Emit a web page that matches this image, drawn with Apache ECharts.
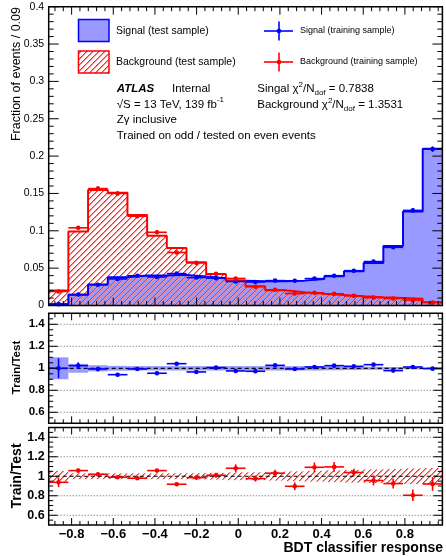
<!DOCTYPE html>
<html>
<head>
<meta charset="utf-8">
<script src="https://cdn.jsdelivr.net/npm/echarts@6/dist/echarts.min.js"></script>
<style>
html,body{margin:0;padding:0;background:#fff;}
#chart{width:446px;height:556px;}
</style>
</head>
<body>
<div id="chart"></div>
<script>
// ---------------- data ----------------
const binEdges = [-0.91, -0.8155, -0.721, -0.6265, -0.532, -0.4375, -0.343, -0.2485, -0.154, -0.0595, 0.035,
                  0.1295, 0.224, 0.3185, 0.413, 0.5075, 0.602, 0.6965, 0.791, 0.8855, 0.98];
const sigTest  = [0.0018, 0.0143, 0.0280, 0.0378, 0.0400, 0.0400, 0.0410, 0.0387, 0.0364, 0.0330,
                  0.0324, 0.0324, 0.0333, 0.0356, 0.0390, 0.0458, 0.0569, 0.0796, 0.1258, 0.2100];
const bkgTest  = [0.0200, 0.0990, 0.1547, 0.1510, 0.1213, 0.0933, 0.0769, 0.0578, 0.0422, 0.0336,
                  0.0258, 0.0204, 0.0178, 0.0156, 0.0142, 0.0124, 0.0110, 0.0102, 0.0089, 0.0044];
const sigTrain = [0.0018, 0.0147, 0.0278, 0.0356, 0.0398, 0.0382, 0.0427, 0.0374, 0.0366, 0.0322,
                  0.0315, 0.0333, 0.0331, 0.0360, 0.0399, 0.0466, 0.0588, 0.0779, 0.1273, 0.2094];
const sigTrainErr = [0.0005, 0.001, 0.0012, 0.0014, 0.0015, 0.0015, 0.0015, 0.0015, 0.0014, 0.0014,
                     0.0014, 0.0014, 0.0014, 0.0015, 0.0016, 0.0017, 0.0019, 0.0023, 0.0028, 0.0036];
const bkgTrain = [0.0188, 0.1040, 0.1565, 0.1500, 0.1195, 0.0980, 0.0710, 0.0570, 0.0424, 0.0362,
                  0.0252, 0.0210, 0.0160, 0.0170, 0.0156, 0.0129, 0.0105, 0.0094, 0.0072, 0.0041];
const bkgTrainErr = [0.0012, 0.0025, 0.003, 0.003, 0.0027, 0.0024, 0.002, 0.0018, 0.0015, 0.0014,
                     0.0012, 0.0011, 0.001, 0.001, 0.001, 0.0009, 0.0008, 0.0008, 0.0007, 0.0005];
const sigRatio    = [1.000, 1.024, 0.994, 0.942, 0.994, 0.955, 1.042, 0.967, 1.006, 0.976,
                     0.973, 1.027, 0.994, 1.012, 1.024, 1.018, 1.033, 0.979, 1.012, 0.997];
const sigRatioErr = [0.09, 0.03, 0.02, 0.015, 0.015, 0.015, 0.015, 0.015, 0.015, 0.015,
                     0.015, 0.015, 0.015, 0.015, 0.012, 0.012, 0.01, 0.01, 0.008, 0.006];
const sigBand     = [0.10, 0.04, 0.028, 0.022, 0.02, 0.02, 0.02, 0.02, 0.02, 0.02,
                     0.02, 0.02, 0.02, 0.02, 0.018, 0.016, 0.014, 0.012, 0.01, 0.008];
const bkgRatio    = [0.938, 1.058, 1.020, 0.990, 0.980, 1.058, 0.918, 0.986, 1.010, 1.082,
                     0.976, 1.031, 0.897, 1.092, 1.096, 1.038, 0.956, 0.925, 0.805, 0.921];
const bkgRatioErr = [0.05, 0.02, 0.015, 0.015, 0.015, 0.015, 0.015, 0.02, 0.025, 0.04,
                     0.03, 0.035, 0.04, 0.05, 0.05, 0.04, 0.05, 0.05, 0.06, 0.07];
const bkgBand     = [0.055, 0.03, 0.03, 0.03, 0.03, 0.03, 0.03, 0.032, 0.035, 0.04,
                     0.04, 0.045, 0.05, 0.055, 0.06, 0.065, 0.07, 0.075, 0.08, 0.085];
const xTickValues = [-0.8, -0.6, -0.4, -0.2, 0, 0.2, 0.4, 0.6, 0.8];
const xTickLabels = ['\u22120.8', '\u22120.6', '\u22120.4', '\u22120.2', '0', '0.2', '0.4', '0.6', '0.8'];
const topTickValues = [0, 0.05, 0.1, 0.15, 0.2, 0.25, 0.3, 0.35, 0.4];
const topTickLabels = ['0', '0.05', '0.1', '0.15', '0.2', '0.25', '0.3', '0.35', '0.4'];
const ratioTickValues = [0.6, 0.8, 1, 1.2, 1.4];
const ratioTickLabels = ['0.6', '0.8', '1', '1.2', '1.4'];

// ---------------- helpers ----------------
const FONT = '"Liberation Sans", Arial, Helvetica, sans-serif';
const SIG_FILL = '#9999ff';
const X_MIN = binEdges[0], X_MAX = binEdges[binEdges.length - 1];
const nB = binEdges.length - 1;
const centers = [], halfW = [];
for (let i = 0; i < nB; i++) { centers.push((binEdges[i] + binEdges[i + 1]) / 2); halfW.push((binEdges[i + 1] - binEdges[i]) / 2); }
const overlap = sigTest.map((v, i) => Math.min(v, bkgTest[i]));

function labelFor(values, labels) {
  return v => { for (let i = 0; i < values.length; i++) if (Math.abs(v - values[i]) < 1e-6) return labels[i]; return ''; };
}
function histLine(vals) {
  const pts = [];
  for (let i = 0; i < vals.length; i++) { pts.push([binEdges[i], vals[i]]); pts.push([binEdges[i + 1], vals[i]]); }
  return pts;
}
// opaque hatch tiles (background colour + red diagonal)
function hatchTile(bg) {
  const c = document.createElement('canvas'); c.width = 6; c.height = 6;
  const g = c.getContext('2d');
  g.fillStyle = bg; g.fillRect(0, 0, 6, 6);
  g.fillStyle = '#ff2a2a';
  for (let i = 0; i < 6; i++) g.fillRect(i, 5 - i, 1, 1);
  g.fillStyle = '#ff8c8c';
  for (let i = 0; i < 6; i++) g.fillRect((i + 1) % 6, 5 - i, 1, 1);
  return { image: c, repeat: 'repeat' };
}
const hatchWhite = hatchTile('#ffffff');
const hatchBlue = hatchTile(SIG_FILL);

// tick lists (axis structure)
const xMinorTicks = []; for (let k = -23; k <= 24; k++) { if (k % 5 !== 0) { const v = k * 0.04; if (v > X_MIN && v < X_MAX) xMinorTicks.push(v); } }
const topMinor = []; for (let k = 1; k < 40; k++) if (k % 5 !== 0) topMinor.push(k * 0.01);
const ratioMinor = []; for (let k = 1; k < 20; k++) { const v = 0.5 + k * 0.05; if (Math.abs(v * 5 - Math.round(v * 5)) > 1e-6) ratioMinor.push(v); }

function frameSeries(gi, yMajor, yMinor, yRef, tk) {
  return {
    type: 'custom', xAxisIndex: gi, yAxisIndex: gi, z: 50, silent: true, clip: false, animation: false,
    data: [[0, yRef]],
    renderItem: (params, api) => {
      const cs = params.coordSys;
      const x0 = cs.x, x1 = cs.x + cs.width, y0 = cs.y, y1 = cs.y + cs.height;
      const ch = [];
      const st = { stroke: '#000', lineWidth: 1 };
      const L = (a, b, c, d) => ch.push({ type: 'line', shape: { x1: a, y1: b, x2: c, y2: d }, style: st });
      xTickValues.forEach(v => { const p = api.coord([v, yRef])[0]; L(p, y1, p, y1 - tk.xMaj); L(p, y0, p, y0 + tk.xMaj); });
      xMinorTicks.forEach(v => { const p = api.coord([v, yRef])[0]; L(p, y1, p, y1 - tk.xMin); L(p, y0, p, y0 + tk.xMin); });
      yMajor.forEach(v => { const p = api.coord([0, v])[1]; L(x0, p, x0 + tk.yMaj, p); L(x1, p, x1 - tk.yMaj, p); });
      yMinor.forEach(v => { const p = api.coord([0, v])[1]; L(x0, p, x0 + tk.yMin, p); L(x1, p, x1 - tk.yMin, p); });
      ch.push({ type: 'rect', shape: { x: x0, y: y0, width: cs.width, height: cs.height }, style: { fill: 'none', stroke: '#000', lineWidth: 1.5 } });
      return { type: 'group', children: ch };
    }
  };
}
function gridLineSeries(gi) {
  return {
    type: 'custom', xAxisIndex: gi, yAxisIndex: gi, z: 4, silent: true, animation: false,
    data: [[0, 1]],
    renderItem: (params, api) => {
      const cs = params.coordSys; const ch = [];
      ratioTickValues.forEach(v => {
        const p = api.coord([0, v])[1];
        const isOne = Math.abs(v - 1) < 1e-6;
        ch.push({ type: 'line', shape: { x1: cs.x, y1: p, x2: cs.x + cs.width, y2: p },
          style: { stroke: '#000', lineWidth: isOne ? 1.2 : 0.8, lineDash: isOne ? [4, 3] : [1, 2], opacity: isOne ? 1 : 0.8 } });
      });
      return { type: 'group', children: ch };
    }
  };
}
function markerSeries(gi, vals, errs, color, z) {
  return {
    type: 'custom', xAxisIndex: gi, yAxisIndex: gi, z: z, silent: true, animation: false,
    data: vals.map((v, i) => [centers[i], v, errs[i], halfW[i]]),
    renderItem: (params, api) => {
      const x = api.value(0), y = api.value(1), e = api.value(2), h = api.value(3);
      const c = api.coord([x, y]), l = api.coord([x - h, y]), r = api.coord([x + h, y]);
      const t = api.coord([x, y + e]), b = api.coord([x, y - e]);
      return { type: 'group', children: [
        { type: 'line', shape: { x1: l[0], y1: l[1], x2: r[0], y2: r[1] }, style: { stroke: color, lineWidth: 1.6 } },
        { type: 'line', shape: { x1: c[0], y1: t[1], x2: c[0], y2: b[1] }, style: { stroke: color, lineWidth: 1.6 } },
        { type: 'circle', shape: { cx: c[0], cy: c[1], r: 2.3 }, style: { fill: color } }
      ] };
    }
  };
}
function bandSeries(gi, band, fill, z) {
  return {
    type: 'custom', xAxisIndex: gi, yAxisIndex: gi, z: z, silent: true, animation: false,
    data: band.map((e, i) => [binEdges[i], binEdges[i + 1], e]),
    renderItem: (params, api) => {
      const a = api.coord([api.value(0), 1 + api.value(2)]);
      const b = api.coord([api.value(1), 1 - api.value(2)]);
      return { type: 'rect', shape: { x: a[0], y: a[1], width: b[0] - a[0], height: b[1] - a[1] }, style: { fill: fill } };
    }
  };
}
function areaSeries(vals, fill, z) {
  return { type: 'line', xAxisIndex: 0, yAxisIndex: 0, z: z, silent: true, symbol: 'none', data: histLine(vals),
    lineStyle: { width: 0, opacity: 0 }, areaStyle: { color: fill, opacity: 1 } };
}
function outlineSeries(vals, color, z) {
  return { type: 'line', xAxisIndex: 0, yAxisIndex: 0, z: z, silent: true, symbol: 'none', data: histLine(vals),
    lineStyle: { color: color, width: 2 } };
}

// ---------------- text helpers ----------------
const mctx = document.createElement('canvas').getContext('2d');
function tw(text, font) { mctx.font = font; return mctx.measureText(text).width; }
function T(x, y, text, size, opt) {
  opt = opt || {};
  const weight = opt.weight || 'normal', style = opt.style || 'normal';
  const align = opt.align || 'left';
  return { type: 'text', x: x, y: y, rotation: opt.rotation || 0, silent: true, z: 100,
    style: { text: text, fontSize: size, fontFamily: FONT, fontWeight: weight, fontStyle: style,
      fill: '#000', align: align, textAlign: align, verticalAlign: 'middle', textVerticalAlign: 'middle' } };
}
function fontStr(size, weight, style) { return (style || 'normal') + ' ' + (weight || 'normal') + ' ' + size + 'px ' + FONT; }
function seq(x, y, pieces) {
  const out = []; let cx = x;
  pieces.forEach(p => { out.push(T(cx, y + (p[2] || 0), p[0], p[1], p[3] || {})); cx += tw(p[0], fontStr(p[1], (p[3] || {}).weight, (p[3] || {}).style)); });
  return out;
}

const graphics = [];
// legend
graphics.push({ type: 'rect', z: 100, shape: { x: 78.5, y: 19.5, width: 30.5, height: 22 }, style: { fill: SIG_FILL, stroke: '#0000ff', lineWidth: 1.5 } });
graphics.push({ type: 'rect', z: 100, shape: { x: 78.5, y: 51, width: 30.5, height: 22 }, style: { fill: hatchWhite, stroke: '#ff0000', lineWidth: 1.5 } });
graphics.push(T(116, 31, 'Signal (test sample)', 10.5));
graphics.push(T(116, 62, 'Background (test sample)', 10.5));
[['#0000ff', 31, 'Signal (training sample)'], ['#ff0000', 62, 'Background (training sample)']].forEach(d => {
  graphics.push({ type: 'line', z: 100, shape: { x1: 264, y1: d[1], x2: 293, y2: d[1] }, style: { stroke: d[0], lineWidth: 1.6 } });
  graphics.push({ type: 'line', z: 100, shape: { x1: 279, y1: d[1] - 9.5, x2: 279, y2: d[1] + 9.5 }, style: { stroke: d[0], lineWidth: 1.6 } });
  graphics.push({ type: 'circle', z: 100, shape: { cx: 279, cy: d[1], r: 2.3 }, style: { fill: d[0] } });
  graphics.push(T(300, d[1], d[2], 9));
});
// ATLAS block
graphics.push(T(116.7, 89, 'ATLAS', 11.5, { weight: 'bold', style: 'italic' }));
graphics.push(T(172, 89, 'Internal', 11.5));
graphics.push(...seq(116.7, 104.5, [['\u221AS = 13 TeV, 139 fb', 11.5], ['-1', 8, -5]]));
graphics.push(T(116.7, 120, 'Z\u03B3 inclusive', 11.5));
graphics.push(T(116.7, 136, 'Trained on odd / tested on even events', 11.5));
graphics.push(...seq(257.3, 89, [['Singal \u03C7', 11.5], ['2', 8, -4], ['/N', 11.5], ['dof', 8, 4], [' = 0.7838', 11.5]]));
graphics.push(...seq(257.3, 104.5, [['Background \u03C7', 11.5], ['2', 8, -4], ['/N', 11.5], ['dof', 8, 4], [' = 1.3531', 11.5]]));
// axis titles
graphics.push(T(16.5, 7, 'Fraction of events / 0.09', 12.5, { rotation: Math.PI / 2, align: 'right' }));
graphics.push(T(17.3, 367.5, 'Train/Test', 11.5, { rotation: Math.PI / 2, align: 'center', weight: 'bold' }));
graphics.push(T(17.3, 476, 'Train/Test', 14, { rotation: Math.PI / 2, align: 'center', weight: 'bold' }));
graphics.push(T(443, 548.5, 'BDT classifier response', 14, { align: 'right', weight: 'bold' }));

// ---------------- chart ----------------
const GL = 48.7, GR = 3.6;
const grids = [
  { left: GL, right: GR, top: 6.7, height: 298.8 },
  { left: GL, right: GR, top: 313.3, height: 110 },
  { left: GL, right: GR, top: 427.5, height: 97.5 }
];
function xAx(gi, showLabels) {
  return { type: 'value', gridIndex: gi, min: X_MIN, max: X_MAX, interval: 0.01,
    axisLine: { show: false }, axisTick: { show: false }, splitLine: { show: false },
    axisLabel: { show: showLabels, formatter: labelFor(xTickValues, xTickLabels), fontFamily: FONT, fontWeight: 'bold', fontSize: 13, color: '#000', margin: 3 } };
}
function yRatio(gi, size) {
  return { type: 'value', gridIndex: gi, min: 0.5, max: 1.5, interval: 0.1,
    axisLine: { show: false }, axisTick: { show: false }, splitLine: { show: false },
    axisLabel: { formatter: labelFor(ratioTickValues, ratioTickLabels), fontFamily: FONT, fontWeight: 'bold', fontSize: size, color: '#000', margin: 4 } };
}

const tkTop = { xMaj: 8, xMin: 4.5, yMaj: 10, yMin: 5 };
const tkR = { xMaj: 7, xMin: 4, yMaj: 9, yMin: 4.5 };

const option = {
  animation: false,
  backgroundColor: '#fff',
  grid: grids,
  xAxis: [xAx(0, false), xAx(1, false), xAx(2, true)],
  yAxis: [
    { type: 'value', gridIndex: 0, min: 0, max: 0.4, interval: 0.05,
      axisLine: { show: false }, axisTick: { show: false }, splitLine: { show: false },
      axisLabel: { formatter: labelFor(topTickValues, topTickLabels), fontFamily: FONT, fontSize: 10.5, color: '#000', margin: 4.5 } },
    yRatio(1, 11.5),
    yRatio(2, 12.5)
  ],
  graphic: { elements: graphics },
  series: [
    areaSeries(bkgTest, hatchWhite, 1),
    areaSeries(sigTest, SIG_FILL, 2),
    areaSeries(overlap, hatchBlue, 3),
    outlineSeries(sigTest, '#0000ff', 4),
    outlineSeries(bkgTest, '#ff0000', 5),
    markerSeries(0, sigTrain, sigTrainErr, '#0000ff', 10),
    markerSeries(0, bkgTrain, bkgTrainErr, '#ff0000', 11),
    frameSeries(0, topTickValues, topMinor, 0.1, tkTop),

    bandSeries(1, sigBand, SIG_FILL, 2),
    gridLineSeries(1),
    markerSeries(1, sigRatio, sigRatioErr, '#0000ff', 10),
    frameSeries(1, ratioTickValues, ratioMinor, 1, tkR),

    bandSeries(2, bkgBand, hatchWhite, 2),
    gridLineSeries(2),
    markerSeries(2, bkgRatio, bkgRatioErr, '#ff0000', 10),
    frameSeries(2, ratioTickValues, ratioMinor, 1, tkR)
  ]
};
const chart = echarts.init(document.getElementById('chart'), null, { renderer: 'canvas' });
chart.setOption(option);
</script>
</body>
</html>
